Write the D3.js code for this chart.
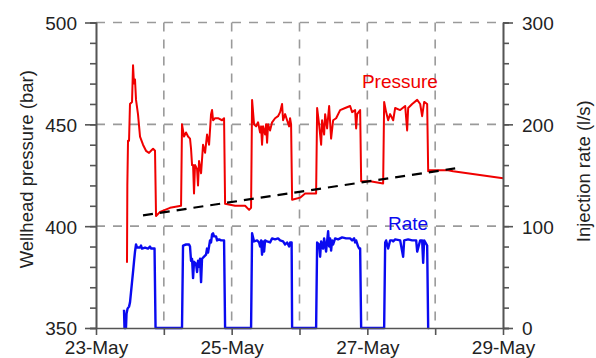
<!DOCTYPE html>
<html>
<head>
<meta charset="utf-8">
<script src="https://cdn.jsdelivr.net/npm/d3@7"></script>
<style>
  body { margin: 0; background: #fff; }
  svg text { font-family: "Liberation Sans", Arial, sans-serif; fill: #222; }
</style>
</head>
<body>
<div id="chart"></div>
<script>
// time values are days after 23-May 00:00
const pressureT = [0.457, 0.462, 0.472, 0.487, 0.501, 0.531, 0.546, 0.56, 0.575, 0.59, 0.619, 0.649, 0.693, 0.737, 0.782, 0.811, 0.841, 0.87,
  0.885, 0.944, 1.091, 1.254, 1.268, 1.298, 1.327, 1.357, 1.386, 1.401, 1.416, 1.431, 1.445, 1.46, 1.49, 1.504, 1.519, 1.549, 1.578, 1.608, 1.637, 1.667, 1.696, 1.711, 1.726, 1.755, 1.799, 1.858, 1.888,
  1.903, 2.05, 2.198, 2.257, 2.286, 2.301, 2.33, 2.36, 2.389, 2.419, 2.434, 2.448, 2.463, 2.493, 2.507, 2.522, 2.537, 2.566, 2.596, 2.64, 2.684, 2.714, 2.743, 2.758, 2.788, 2.817, 2.847, 2.861, 2.876,
  2.891, 3.009, 3.083, 3.23, 3.245, 3.26, 3.289, 3.319, 3.333, 3.363, 3.378, 3.407, 3.437, 3.466, 3.496, 3.54, 3.599, 3.673, 3.746, 3.776, 3.82, 3.835, 3.85, 3.894,
  3.909, 4.041, 4.233, 4.248, 4.277, 4.307, 4.336, 4.381, 4.41, 4.484, 4.558, 4.587, 4.602, 4.661, 4.735, 4.779, 4.808, 4.838, 4.882,
  4.897, 4.926, 5.192, 5.265, 6.0];
const pressureV = [382, 420, 442, 442, 460, 461, 479, 470, 472, 462, 455, 444, 440, 437, 436, 437, 438, 437,
  405, 407, 409, 410, 450, 444, 446, 444, 443, 438, 430, 430, 416, 430, 428, 420, 432, 426, 440, 436, 445, 440, 455, 457, 452, 453, 453, 452, 453,
  411, 410, 410, 408, 409, 462, 450, 449, 451, 446, 449, 440, 449, 445, 450, 441, 450, 447, 451, 453, 454, 456, 460, 452, 455, 452, 449, 453, 450,
  413, 414, 416, 416, 416, 458, 450, 440, 452, 445, 455, 448, 459, 443, 452, 453, 457, 458, 459, 456, 457, 448, 455, 457,
  422, 422, 421, 461, 456, 452, 455, 452, 458, 457, 459, 447, 458, 460, 462, 460, 454, 461, 460,
  427, 427.5, 427.5, 427, 423.5];

const rateT = [0.413, 0.42, 0.442, 0.45, 0.465, 0.487, 0.501, 0.516, 0.531, 0.546, 0.56, 0.575, 0.59, 0.605, 0.649, 0.664, 0.678, 0.723, 0.767, 0.796, 0.811, 0.863,
  0.878, 1.268, 1.283, 1.327, 1.372, 1.386, 1.401, 1.416, 1.431, 1.445, 1.475, 1.49, 1.504, 1.519, 1.534, 1.549, 1.563, 1.593, 1.622, 1.637, 1.652, 1.681, 1.696, 1.711, 1.726, 1.74, 1.77, 1.785, 1.814, 1.844, 1.888,
  1.903, 2.286, 2.301, 2.33, 2.375, 2.404, 2.419, 2.434, 2.448, 2.463, 2.478, 2.493, 2.522, 2.566, 2.596, 2.64, 2.684, 2.714, 2.758, 2.788, 2.817, 2.847, 2.861, 2.884,
  2.891, 3.245, 3.26, 3.289, 3.304, 3.319, 3.348, 3.363, 3.392, 3.407, 3.422, 3.437, 3.451, 3.466, 3.481, 3.496, 3.525, 3.569, 3.628, 3.687, 3.746, 3.776, 3.805, 3.82, 3.835, 3.864, 3.879, 3.894,
  3.909, 4.248, 4.263, 4.277, 4.307, 4.336, 4.366, 4.381, 4.41, 4.484, 4.528, 4.543, 4.602, 4.661, 4.72, 4.735, 4.779, 4.808, 4.823, 4.838, 4.882,
  4.897, 4.912];
const rateV = [18, 0, 0, 14, 19, 21, 25, 35, 45, 55, 65, 75, 82, 79, 79, 81, 78, 79, 78, 80, 78, 78,
  0, 0, 81, 82, 82, 80, 66, 68, 49, 65, 63, 55, 66, 60, 68, 45, 68, 70, 72, 78, 74, 86, 84, 92, 93, 90, 90, 86, 87, 86, 86,
  0, 0, 93, 85, 86, 84, 80, 86, 72, 85, 75, 86, 85, 84, 88, 87, 88, 86, 85, 82, 84, 80, 84, 84,
  0, 0, 84, 82, 70, 85, 78, 88, 75, 85, 95, 80, 88, 76, 86, 82, 88, 87, 89, 88, 88, 86, 88, 84, 86, 80, 78, 78,
  0, 0, 84, 86, 78, 86, 86, 85, 87, 86, 70, 86, 87, 86, 86, 75, 86, 86, 64, 86, 81,
  0, 0];

const trendT = [0.693, 5.295];
const trendV = [405.3, 428.4];

const pressureTicks = [350, 400, 450, 500];
const rateTicks = [0, 100, 200, 300];
const dayTicks = [0, 1, 2, 3, 4, 5, 6];
const dayLabels = ['23-May', '', '25-May', '', '27-May', '', '29-May'];

const width = 596;
const height = 358;
const margin = {top: 22.5, right: 93, bottom: 30, left: 96};
const innerW = width - margin.left - margin.right;
const innerH = height - margin.top - margin.bottom;

const svg = d3.select('#chart').append('svg')
  .attr('width', width)
  .attr('height', height);

const g = svg.append('g')
  .attr('transform', `translate(${margin.left},${margin.top})`);

const x = d3.scaleLinear().domain([0, 6]).range([0, innerW]);
const yP = d3.scaleLinear().domain([350, 500]).range([innerH, 0]);
const yR = d3.scaleLinear().domain([0, 300]).range([innerH, 0]);

const gridColor = '#9a9a9a';
const axisColor = '#555';

// dashed grid
g.append('g')
  .selectAll('line')
  .data([400, 450, 500])
  .enter().append('line')
  .attr('x1', 0).attr('x2', innerW)
  .attr('y1', d => yP(d)).attr('y2', d => yP(d))
  .attr('stroke', gridColor)
  .attr('stroke-width', 1.6)
  .attr('stroke-dasharray', '9,8');

g.append('g')
  .selectAll('line')
  .data([1, 2, 3, 4, 5])
  .enter().append('line')
  .attr('x1', d => x(d)).attr('x2', d => x(d))
  .attr('y1', 0).attr('y2', innerH)
  .attr('stroke', gridColor)
  .attr('stroke-width', 1.6)
  .attr('stroke-dasharray', '9,8');

// series
const pLine = d3.line().x(d => x(d[0])).y(d => yP(d[1]));
const rLine = d3.line().x(d => x(d[0])).y(d => yR(d[1]));

g.append('path')
  .datum(pressureT.map((t, i) => [t, pressureV[i]]))
  .attr('d', pLine)
  .attr('fill', 'none')
  .attr('stroke', '#f00000')
  .attr('stroke-width', 2)
  .attr('stroke-linejoin', 'round');

g.append('path')
  .datum(rateT.map((t, i) => [t, rateV[i]]))
  .attr('d', rLine)
  .attr('fill', 'none')
  .attr('stroke', '#0a0af0')
  .attr('stroke-width', 2.4)
  .attr('stroke-linejoin', 'round');

g.append('path')
  .datum(trendT.map((t, i) => [t, trendV[i]]))
  .attr('d', pLine)
  .attr('fill', 'none')
  .attr('stroke', '#000')
  .attr('stroke-width', 2.2)
  .attr('stroke-dasharray', '10,7');

// axes
function styleAxis(sel) {
  sel.select('.domain').attr('stroke', axisColor).attr('stroke-width', 1.6);
  sel.selectAll('.tick line').attr('stroke', axisColor).attr('stroke-width', 1.6);
  sel.selectAll('.tick text').attr('font-size', '19px').attr('fill', '#222');
}

// minor ticks first
g.append('g')
  .call(d3.axisLeft(yP).tickValues(d3.range(350, 501, 10)).tickSize(6).tickFormat(''))
  .call(styleAxis);
g.append('g')
  .attr('transform', `translate(${innerW},0)`)
  .call(d3.axisRight(yR).tickValues(d3.range(0, 301, 20)).tickSize(6).tickFormat(''))
  .call(styleAxis);

g.append('g')
  .call(d3.axisLeft(yP).tickValues(pressureTicks).tickSize(11).tickPadding(8).tickSizeOuter(0))
  .call(styleAxis)
  .call(a => a.selectAll('.tick text').attr('dy', '0.36em'));

g.append('g')
  .attr('transform', `translate(${innerW},0)`)
  .call(d3.axisRight(yR).tickValues(rateTicks).tickSize(10).tickPadding(9).tickSizeOuter(0))
  .call(styleAxis)
  .call(a => a.selectAll('.tick text').attr('dy', '0.36em'));

g.append('g')
  .attr('transform', `translate(0,${innerH})`)
  .call(d3.axisBottom(x).tickValues(dayTicks).tickSize(7).tickPadding(6).tickSizeOuter(0)
    .tickFormat((d, i) => dayLabels[i]))
  .call(styleAxis);

// axis titles
svg.append('text')
  .attr('transform', `translate(33,${margin.top + innerH / 2 - 6}) rotate(-90)`)
  .attr('text-anchor', 'middle')
  .attr('font-size', '18.5px')
  .text('Wellhead pressure (bar)');

svg.append('text')
  .attr('transform', `translate(590,${margin.top + innerH / 2 - 4}) rotate(-90)`)
  .attr('text-anchor', 'middle')
  .attr('font-size', '18.5px')
  .text('Injection rate (l/s)');

// series labels
g.append('text')
  .attr('x', x(4.48)).attr('y', yP(467.6))
  .attr('text-anchor', 'middle')
  .attr('font-size', '19px')
  .style('fill', '#f00000')
  .text('Pressure');

g.append('text')
  .attr('x', x(4.6)).attr('y', yR(96))
  .attr('text-anchor', 'middle')
  .attr('font-size', '19px')
  .style('fill', '#0a0af0')
  .text('Rate');
</script>
</body>
</html>
